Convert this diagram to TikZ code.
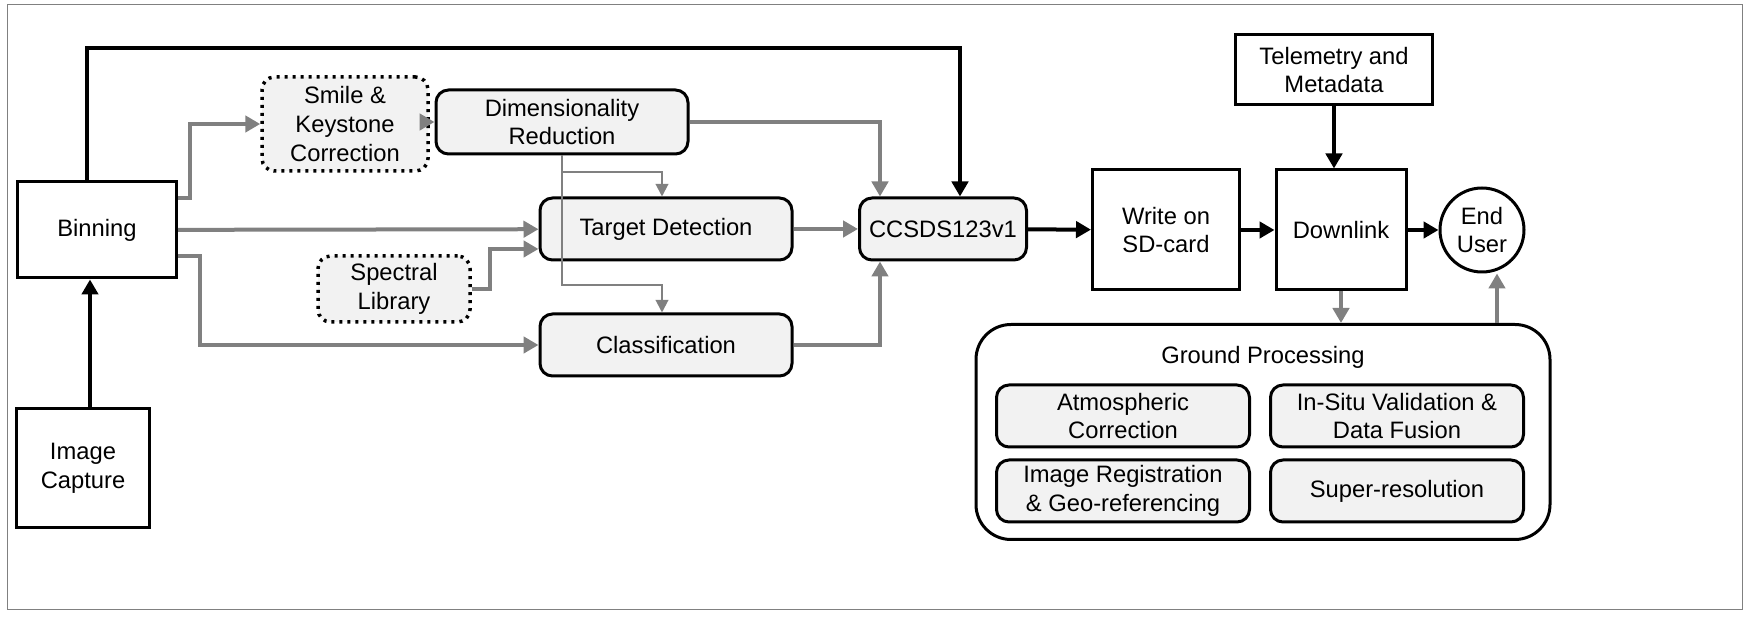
\documentclass[tikz,border=0pt]{standalone}
\usepackage{fontspec}
\setmainfont{Liberation Sans}
\usetikzlibrary{arrows.meta}
\definecolor{boxfill}{RGB}{242,242,242}
\definecolor{linegray}{RGB}{128,128,128}
\tikzset{every picture/.style={line width=0.75pt}}
\tikzset{
  box/.style={draw,line width=1.2pt,align=center,font=\fontsize{9.5}{11.5}\selectfont,inner sep=0pt},
  rbox/.style={box,rounded corners=5pt,fill=boxfill},
  dbox/.style={box,rounded corners=5pt,fill=boxfill,dotted,line width=1.4pt},
  garrow/.style={draw=linegray,line width=1.6pt,-{Triangle[length=6pt,width=6.5pt]}},
  tarrow/.style={draw=linegray,line width=0.8pt,-{Triangle[length=5pt,width=5pt]}},
  barrow/.style={draw=black,line width=1.6pt,-{Triangle[length=6pt,width=6.5pt]}}
}
\begin{document}
\begin{tikzpicture}[x=0.4pt,y=0.4pt,yscale=-1,xscale=1]
	\useasboundingbox (0,0) rectangle (1749,617);
	\draw [gray,line width=0.4pt] (7,5) rectangle (1742,610);

	% Nodes
	\node [box,minimum width=63.6pt,minimum height=38.4pt] (bin) at (97,230) {Binning};
	\node [box,minimum width=53.2pt,minimum height=47.6pt] (cap) at (83,468) {Image\\Capture};
	\node [dbox,minimum width=66.4pt,minimum height=37.6pt] (smile) at (345,124) {Smile \&\\Keystone\\Correction};
	\node [rbox,minimum width=100.8pt,minimum height=25.6pt] (dim) at (562,122) {Dimensionality\\Reduction};
	\node [rbox,minimum width=100.8pt,minimum height=24.8pt] (tgt) at (666,229) {Target Detection};
	\node [dbox,minimum width=60.8pt,minimum height=26.4pt] (lib) at (394,289) {Spectral\\Library};
	\node [rbox,minimum width=100.8pt,minimum height=24.8pt] (cls) at (666,345) {Classification};
	\node [rbox,minimum width=66.8pt,minimum height=24.8pt] (ccsds) at (943,229) {CCSDS123v1};
	\node [box,minimum width=58.8pt,minimum height=48pt] (sd) at (1166,230) {Write on\\SD-card};
	\node [box,minimum width=78.8pt,minimum height=28pt] (tel) at (1334,70) {Telemetry and\\Metadata};
	\node [box,minimum width=52pt,minimum height=48pt] (down) at (1341,230) {Downlink};
	\node [box,circle,minimum size=33.6pt] (user) at (1482,230) {End\\User};
	\node [box,rounded corners=14pt,minimum width=229.6pt,minimum height=86pt] (gp) at (1263,432) {};
	\node [font=\fontsize{9.5}{11.5}\selectfont] (gpt) at (1263,357) {Ground Processing};
	\node [rbox,minimum width=101.2pt,minimum height=24.8pt] (atm) at (1123,416) {Atmospheric\\Correction};
	\node [rbox,minimum width=101.2pt,minimum height=24.8pt] (situ) at (1397,416) {In-Situ Validation \&\\Data Fusion};
	\node [rbox,minimum width=101.2pt,minimum height=24.8pt] (reg) at (1123,491) {Image Registration\\\& Geo-referencing};
	\node [rbox,minimum width=101.2pt,minimum height=24.8pt] (sup) at (1397,491) {Super-resolution};

	% Black flow
	\draw [barrow] (cap.north -| 90,0) -- (bin.south -| 90,0);
	\draw [barrow] (bin.north -| 87,0) -- (87,48) -- (960,48) -- (ccsds.north -| 960,0);
	\draw [barrow] (ccsds) -- (sd);
	\draw [barrow] (sd) -- (down);
	\draw [barrow] (down) -- (user);
	\draw [barrow] (tel) -- (tel.south |- down.north);

	% Gray flow
	\draw [garrow] (bin.east |- 0,198) -- (190,198) -- (190,124) -- (smile.west |- 0,124);
	\draw [garrow] (smile.east |- dim.west) -- (dim);
	\draw [garrow] (bin) -- (tgt);
	\draw [garrow] (bin.east |- 0,256) -- (200,256) -- (200,345) -- (cls);
	\draw [garrow] (lib.east) -- (490,289) -- (490,249) -- (tgt.west |- 0,249);
	\draw [tarrow] (dim.south) -- (562,285) -- (662,285) -- (cls.north -| 662,0);
	\draw [tarrow] (562,172) -- (662,172) -- (tgt.north -| 662,0);
	\draw [garrow] (dim.east) -- (880,122) -- (ccsds.north -| 880,0);
	\draw [garrow] (tgt) -- (ccsds);
	\draw [garrow] (cls.east) -- (880,345) -- (ccsds.south -| 880,0);
	\draw [garrow] (down) -- (gp.north -| down.south);
	\draw [garrow] (gp.north -| 1497,0) -- (user.south -| 1497,0);
\end{tikzpicture}
\end{document}
